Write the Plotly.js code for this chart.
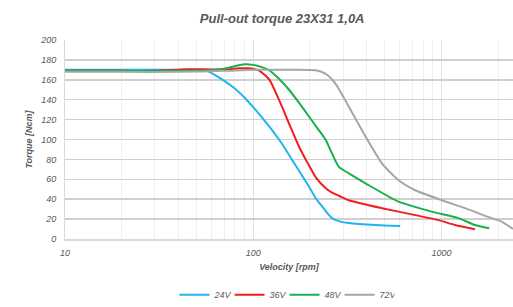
<!DOCTYPE html>
<html><head><meta charset="utf-8">
<script src="https://cdn.plot.ly/plotly-3.0.1.min.js"></script>
<style>html,body{margin:0;padding:0;background:#fff}#c{width:513px;height:307px}</style>
</head><body><div id="c"></div>
<script>
const rpm24 = [10, 20, 40, 55, 58.5, 65, 77.7, 90, 100, 112, 126.5, 143, 161.5, 180, 198, 215, 233, 250, 262, 290, 322, 450, 604];
const tq24  = [170, 170, 170, 169.8, 168, 163, 153, 142, 132.5, 121.5, 109, 95, 79, 65, 52.5, 41, 32.5, 25, 21, 17.5, 16, 14, 13];
const rpm36 = [10, 20, 30, 45, 55, 75, 84, 95, 107, 122, 137, 155, 175, 195, 215, 243, 262, 285, 322, 483, 726, 964, 1181, 1507];
const tq36  = [169, 169, 169, 170.5, 170.5, 170.5, 171.5, 171.5, 169.5, 160, 140, 116, 93, 76, 62, 51, 46.5, 43.5, 39, 31, 24, 19, 14, 9.7];
const rpm48 = [10, 20, 40, 60, 75, 88, 100, 110, 122, 137, 155, 175, 198, 220, 243, 262, 285, 322, 395, 592, 889, 1230, 1507, 1795];
const tq48  = [169, 169, 169, 169.5, 172.5, 175.5, 175, 173, 169.5, 161, 150, 137, 123, 111, 99.5, 86, 72.5, 66, 56, 37.5, 27.5, 21, 14, 10.7];
const rpm72 = [10, 20, 40, 70, 100, 150, 215, 243, 274, 322, 395, 483, 592, 726, 1005, 1334, 1780, 2085, 2400];
const tq72  = [168, 168, 168, 169, 170, 170, 169.5, 166, 156, 133, 103, 76, 59, 49, 39, 31, 22, 17.5, 10];
const names = ['24V', '36V', '48V', '72V'];
const colors = ['#22b4ee', '#f01e1e', '#18b04a', '#a6a6a6'];
const xs = [rpm24, rpm36, rpm48, rpm72];
const ys = [tq24, tq36, tq48, tq72];
const traces = names.map((n, i) => ({
  x: xs[i], y: ys[i], name: n, type: 'scatter', mode: 'lines',
  line: {color: colors[i], width: 2, shape: 'spline', smoothing: 0.6}
}));
const f = {family: 'Liberation Sans, Arial, sans-serif', color: '#595959', style: 'italic'};
const fb = Object.assign({}, f, {weight: 'bold'});
Plotly.newPlot('c', traces, {
  width: 513, height: 307,
  margin: {l: 65, r: 0, t: 40, b: 68},
  paper_bgcolor: '#fff', plot_bgcolor: '#fff',
  title: {text: 'Pull-out torque 23X31 1,0A', font: Object.assign({size: 13}, fb), x: 0.55, xanchor: 'center', y: 0.94, yanchor: 'middle'},
  xaxis: {
    type: 'log', range: [1, Math.log10(2400)], automargin: false,
    tickvals: [10, 100, 1000], ticktext: ['10', '100', '1000'],
    tickfont: Object.assign({size: 9}, f), ticklabelstandoff: 5,
    showgrid: true, gridcolor: '#e0e0e0', gridwidth: 1,
    minor: {dtick: 'D1', showgrid: true, gridcolor: '#efefef', gridwidth: 1, ticks: ''},
    showline: true, linecolor: '#d9d9d9', linewidth: 1.5, zeroline: false, ticks: '', ticklen: 0,
    title: {text: 'Velocity [rpm]', font: Object.assign({size: 9}, fb), standoff: 6}
  },
  yaxis: {
    range: [0, 200], dtick: 20, automargin: false,
    tickfont: Object.assign({size: 9}, f), ticklabelstandoff: 6,
    showgrid: true, gridcolor: '#cfcfcf', gridwidth: 1.5,
    zeroline: false, showline: true, linecolor: '#d9d9d9', linewidth: 1, ticks: '',
    title: {text: 'Torque [Ncm]', font: Object.assign({size: 9}, fb), standoff: 6}
  },
  showlegend: true,
  legend: {orientation: 'h', x: 0.49, xanchor: 'center', yref: 'container', y: 0.04, yanchor: 'middle',
    font: Object.assign({size: 9}, f), itemwidth: 30, entrywidth: 10, entrywidthmode: 'pixels'}
}, {displayModeBar: false, staticPlot: true});
</script></body></html>
